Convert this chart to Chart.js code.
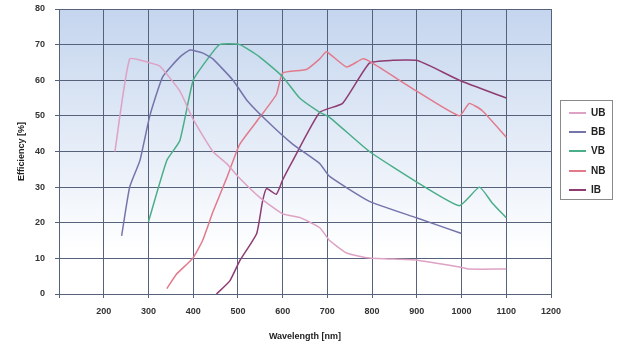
<!DOCTYPE html>
<html>
<head>
<meta charset="utf-8">
<script src="https://cdn.jsdelivr.net/npm/chart.js@4/dist/chart.umd.min.js"></script>
<style>
html,body{margin:0;padding:0;background:#fff;}
#wrap{width:620px;height:346px;position:relative;}
#legend{position:absolute;left:560px;top:100px;width:51px;height:98px;border:1px solid #8a8a8a;box-sizing:content-box;
  font-family:'Liberation Sans',Arial,sans-serif;font-weight:bold;font-size:10px;color:#222;}
#legend .it{position:absolute;left:0;height:12px;line-height:12px;}
#legend .ln{position:absolute;left:8px;top:5px;width:17px;height:2px;}
#legend .tx{position:absolute;left:30px;top:0;}
</style>
</head>
<body>
<div id="wrap"><canvas id="c" width="620" height="346"></canvas><div id="legend"></div></div>
<script>
// Data (wavelength nm, efficiency %)
const seriesNames = ["UB", "BB", "VB", "NB", "IB"];
const ubX = [225, 258, 300, 325, 370, 400, 444, 475, 500, 550, 600, 638, 683, 705, 743, 794, 900, 995, 1017, 1100];
const ubY = [40, 66, 65, 64, 57, 49, 40, 36.6, 33, 27, 22.5, 21.5, 18.6, 15, 11.5, 10.1, 9.5, 7.6, 7, 7];
const bbX = [240, 258, 281, 303, 332, 370, 393, 422, 444, 489, 520, 564, 623, 683, 705, 794, 899, 1000];
const bbY = [16.3, 30, 37.5, 50, 61, 66.5, 68.5, 67.6, 66, 60, 54.4, 48.7, 42, 36.6, 33, 26, 21.4, 17];
const vbX = [300, 341, 370, 400, 430, 459, 504, 549, 600, 638, 683, 705, 794, 899, 995, 1040, 1069, 1100];
const vbY = [20.3, 37.5, 43, 60, 65.6, 70, 70, 66.5, 61, 55, 51, 49.6, 40, 31.5, 24.8, 30, 25.5, 21.4];
const nbX = [341, 363, 399, 421, 444, 475, 504, 549, 586, 600, 653, 683, 698, 743, 779, 801, 899, 995, 1017, 1046, 1100];
const nbY = [1.5, 5.6, 10, 15, 23, 32.6, 42, 49.6, 56, 62, 63, 66, 68, 63.7, 66, 64.8, 57, 50, 53.5, 51.5, 44];
const ibX = [452, 482, 504, 542, 555, 564, 586, 600, 623, 683, 734, 794, 846, 899, 935, 995, 1100];
const ibY = [0, 3.7, 9.3, 17, 26, 29.6, 28, 32, 37.5, 51, 53.5, 64.8, 65.6, 65.6, 63.7, 60, 55];
const xTicks = [200, 300, 400, 500, 600, 700, 800, 900, 1000, 1100, 1200];
const yTicks = [0, 10, 20, 30, 40, 50, 60, 70, 80];

const colors = ["#dea2c4", "#7474aa", "#4aae88", "#e27a8c", "#8e3c72"];
const xs = [ubX, bbX, vbX, nbX, ibX];
const ys = [ubY, bbY, vbY, nbY, ibY];

const datasets = seriesNames.map((n, i) => ({
  label: n,
  data: xs[i].map((x, j) => ({x: x, y: ys[i][j]})),
  borderColor: colors[i],
  backgroundColor: colors[i],
  borderWidth: 1.5,
  pointRadius: 0,
  tension: 0.15,
  fill: false
}));

// HTML legend (real text)
const lg = document.getElementById('legend');
seriesNames.forEach((n, i) => {
  const it = document.createElement('div');
  it.className = 'it';
  it.style.top = (6 + i * 19.2) + 'px';
  it.innerHTML = '<div class="ln" style="background:' + colors[i] + '"></div><div class="tx">' + n + '</div>';
  lg.appendChild(it);
});

const bgPlugin = {
  id: 'bg',
  beforeDraw(chart) {
    const {ctx, chartArea: a} = chart;
    const g = ctx.createLinearGradient(0, a.top, 0, a.bottom);
    g.addColorStop(0, '#c4d5ee');
    g.addColorStop(0.85, '#ffffff');
    g.addColorStop(1, '#ffffff');
    ctx.save();
    ctx.fillStyle = g;
    ctx.fillRect(a.left, a.top, a.right - a.left, a.bottom - a.top);
    ctx.restore();
  }
};

const font = {family: "'Liberation Sans', Arial, sans-serif", size: 9, weight: 'bold'};

new Chart(document.getElementById('c'), {
  type: 'line',
  data: {datasets},
  plugins: [bgPlugin],
  options: {
    responsive: false,
    animation: false,
    layout: {autoPadding: false, padding: {top: 9, right: 69, left: 0, bottom: 0}},
    plugins: {
      legend: {display: false},
      tooltip: {enabled: false}
    },
    scales: {
      x: {
        type: 'linear',
        min: 100, max: 1200,
        afterBuildTicks(ax) { ax.ticks = [100].concat(xTicks).map(v => ({value: v})); },
        ticks: {
          color: '#333', font,
          callback: v => (v === 100 ? '' : String(v)),
          maxRotation: 0, padding: 8
        },
        grid: {color: '#56627a', lineWidth: 1, drawTicks: true, tickLength: 4},
        border: {color: '#56627a'},
        title: {display: true, text: 'Wavelength [nm]', color: '#222', font, padding: {top: 0, bottom: 4}},
        afterFit(ax) { ax.height = 52; ax.paddingLeft = 0; ax.paddingRight = 0; }
      },
      y: {
        type: 'linear',
        min: 0, max: 80,
        afterBuildTicks(ax) { ax.ticks = yTicks.map(v => ({value: v})); },
        ticks: {color: '#333', font, padding: 10},
        grid: {color: '#56627a', lineWidth: 1, tickLength: 4},
        border: {color: '#56627a'},
        title: {display: true, text: 'Efficiency [%]', color: '#222', font, padding: {top: 16, bottom: 0}},
        afterFit(ax) { ax.width = 59; ax.paddingTop = 0; ax.paddingBottom = 0; }
      }
    }
  }
});
</script>
</body>
</html>
